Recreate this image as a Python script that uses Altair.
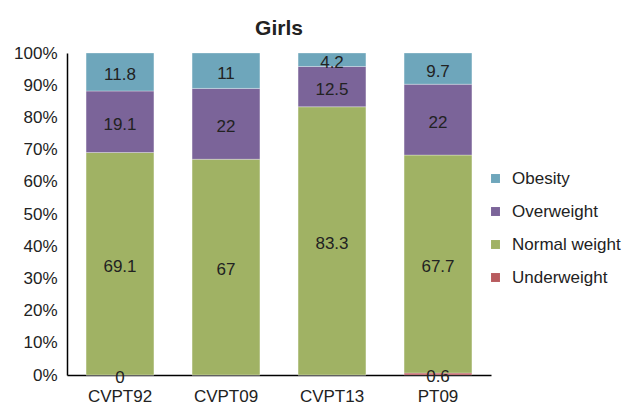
import altair as alt
import pandas as pd

groups = ["CVPT92", "CVPT09", "CVPT13", "PT09"]
categories = ["Obesity", "Overweight", "Normal weight", "Underweight"]
colors = ["#6ea6bb", "#7b6499", "#a0b264", "#b85b5e"]

underweight = [0, None, None, 0.6]
normal_weight = [69.1, 67, 83.3, 67.7]
overweight = [19.1, 22, 12.5, 22]
obesity = [11.8, 11, 4.2, 9.7]

series = {
    "Underweight": underweight,
    "Normal weight": normal_weight,
    "Overweight": overweight,
    "Obesity": obesity,
}
# stacking order from the bottom of each bar
stack_rank = {"Underweight": 0, "Normal weight": 1, "Overweight": 2, "Obesity": 3}

rows = []
for cat, vals in series.items():
    for g, v in zip(groups, vals):
        rows.append({
            "group": g,
            "category": cat,
            "value": 0 if v is None else v,
            "label": None if v is None else f"{v:g}",
            "rank": stack_rank[cat],
        })
df = pd.DataFrame(rows)

FONT = "Liberation Sans"
TEXT = "#222222"

base = alt.Chart(df).transform_stack(
    stack="value",
    groupby=["group"],
    sort=[alt.SortField("rank", order="ascending")],
    as_=["y0", "y1"],
).transform_calculate(
    mid="(datum.y0 + datum.y1) / 2"
)

x_scale = alt.Scale(paddingInner=0.36, paddingOuter=0.18)
x_axis = alt.Axis(
    title=None, labelAngle=0, ticks=False, domainColor="#000000",
    domainWidth=1.5, labelFontSize=17, labelColor=TEXT,
    labelPadding=13, labelFont=FONT,
)
y_scale = alt.Scale(domain=[0, 100], nice=False)
y_axis = alt.Axis(
    title=None, values=list(range(0, 101, 10)),
    labelExpr="datum.value + '%'", ticks=False, grid=False,
    labelOverlap=False, domainColor="#000000", domainWidth=1.5,
    labelFontSize=17, labelColor=TEXT, labelPadding=10, labelFont=FONT,
)

bars = base.mark_bar(stroke="#ffffff", strokeWidth=0.6, strokeOpacity=0.5).encode(
    x=alt.X("group:N", sort=groups, scale=x_scale, axis=x_axis),
    y=alt.Y("y0:Q", scale=y_scale, axis=y_axis),
    y2="y1:Q",
    color=alt.Color(
        "category:N",
        scale=alt.Scale(domain=categories, range=colors),
        legend=alt.Legend(
            title=None, orient="none", legendX=420, legendY=117,
            symbolType="square", symbolSize=80, symbolStrokeWidth=0,
            labelFontSize=17, labelFont=FONT, labelColor=TEXT,
            rowPadding=15, labelOffset=8,
        ),
    ),
)

labels = base.transform_filter("datum.label != null").mark_text(
    fontSize=17, font=FONT, color=TEXT, baseline="middle", dy=3
).encode(
    x=alt.X("group:N", sort=groups, scale=x_scale, axis=x_axis),
    y=alt.Y("mid:Q", scale=y_scale, axis=y_axis),
    text="label:N",
)

chart = alt.layer(bars, labels).properties(
    width=424,
    height=322,
    title=alt.TitleParams("Girls", fontSize=21, font=FONT, fontWeight="bold",
                          color=TEXT, offset=5, anchor="middle"),
    autosize=alt.AutoSizeParams(type="none"),
    padding={"left": 67, "top": 53, "right": 138, "bottom": 30},
).configure_view(stroke=None)

chart.save("out.html", embed_options={"renderer": "svg", "actions": False})
